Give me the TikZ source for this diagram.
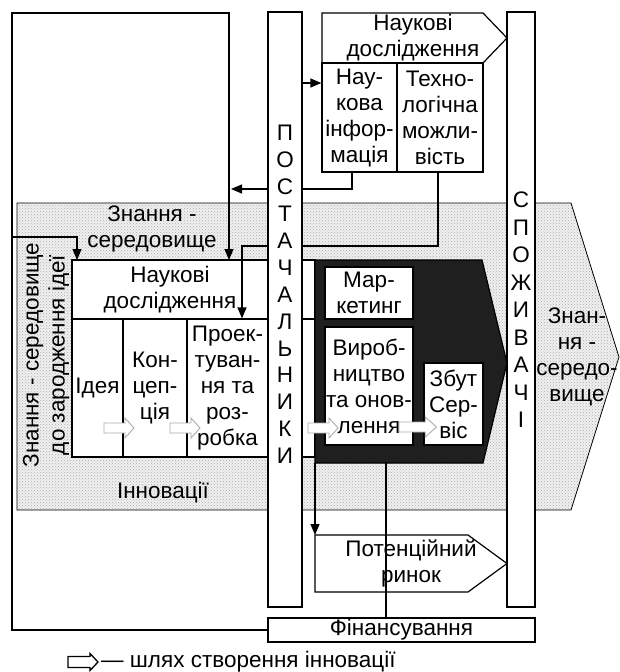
\documentclass[tikz,border=0pt]{standalone}
\usepackage{fontspec}
\setmainfont{Liberation Sans}
\usetikzlibrary{arrows.meta,patterns}
\newcommand\fsz{\fontsize{22.5}{26}\selectfont}
\newcommand\fpil{\fontsize{22.5}{26.9}\selectfont}
\newcommand\fpilb{\fontsize{22.5}{27.5}\selectfont}
\begin{document}
\begin{tikzpicture}[x=1pt,y=-1pt,
  box/.style={draw,fill=white,line width=1.2pt,inner sep=0pt,align=center,font=\fsz},
  txt/.style={inner sep=0pt,align=center,font=\fsz},
  arr/.style={line width=1.2pt,-{Triangle[length=11pt,width=9pt]}},
  con/.style={line width=1.2pt},
  harrow/.pic={\draw[gray!65,fill=white,line width=0.9pt] (0,-5)--(21,-5)--(21,-10)--(30,0)--(21,10)--(21,5)--(0,5)--cycle;},
  legarrow/.pic={\draw[black,fill=white,line width=1.3pt] (0,-5.5)--(22,-5.5)--(22,-8.5)--(30,0)--(22,8.5)--(22,5.5)--(0,5.5)--cycle;}
]
\useasboundingbox (0,0) rectangle (619,672);

% band
\path[draw,line width=0.8pt,preaction={fill=gray!12},pattern=crosshatch dots,pattern color=gray!65]
  (17,203) -- (571,203) -- (619,357) -- (571,510) -- (17,510) -- cycle;
\node[txt] (bandtxt) at (152,228.5) {Знання -\\середовище};
\node[txt] (innov) at (163,493) {Інновації};
\node[txt,rotate=90] (idea0) at (46,355) {Знання - середовище\\до зародження ідеї};
\node[txt] (env) at (577,357) {Знан-\\ня -\\середо-\\вище};

% top research block
\draw[line width=1.2pt,fill=white] (322,13) -- (483,13) -- (507,38) -- (483,63) -- (322,63) -- cycle;
\node[txt] (nd1) at (413,38) {Наукові\\дослідження};
\node[box,minimum width=75pt,minimum height=109pt] (ni) at (359.5,117.5) {Нау-\\кова\\інфор-\\мація};
\node[box,minimum width=86pt,minimum height=109pt] (tm) at (440,117.5) {Техно-\\логічна\\можли-\\вість};

% inner white block
\draw[line width=1.2pt,fill=white] (268,260) rectangle (315,457);
\draw[line width=1.2pt] (268,319) -- (315,319);
\node[box,minimum width=196pt,minimum height=59pt] (ns2) at (170,289.5) {Наукові\\дослідження};
\node[box,minimum width=51pt,minimum height=138pt] (idea) at (97.5,388) {Ідея};
\node[box,minimum width=64pt,minimum height=138pt] (konc) at (155,388) {Кон-\\цеп-\\ція};
\node[box,minimum width=81pt,minimum height=138pt] (proekt) at (227.5,388) {Проек-\\туван-\\ня та\\роз-\\робка};

% dark block
\draw[line width=1.2pt,fill=black!88] (315,260) -- (482,260) -- (507,363) -- (483,463) -- (315,463) -- cycle;
\coordinate (dksw) at (315,463);
\coordinate (dkg) at (386,463);
\node[box,minimum width=88pt,minimum height=52pt] (mark) at (369,293) {Мар-\\кетинг};
\node[box,minimum width=88pt,minimum height=118pt] (vyrob) at (369,386) {Вироб-\\ництво\\та онов-\\лення};
\node[box,minimum width=59pt,minimum height=82pt] (zbut) at (453.5,404) {Збут\\Сер-\\віс};

% path-of-innovation arrows
\pic at (104,428) {harrow};
\pic at (170,428) {harrow};
\pic at (308,428) {harrow};
\pic[xscale=1.25] at (399,427) {harrow};

% potential market
\draw[line width=1.2pt,fill=white] (315,535) -- (468,535) -- (507,563.5) -- (468,592) -- (315,592) -- cycle;
\node[txt] (pm) at (411,563) {Потенційний\\ринок};
\coordinate (pmnw) at (315,535);

% financing
\node[box,minimum width=267pt,minimum height=24pt] (fin) at (401.5,630) {Фінансування};

% connectors
\coordinate (tl) at (12,13);
\coordinate (ta) at (229,260);
\coordinate (lb) at (12,237);
\coordinate (tb) at (77,260);
\coordinate (cc) at (231,189);
\coordinate (dY) at (0,83);
\coordinate (eY) at (242,246);
\draw[arr] (fin.west) -| (tl) -| (ta);
\draw[arr] (lb) -| (tb);
\draw[arr] ([xshift=-7.5pt]ni.south) |- (cc);
\draw[arr] ([xshift=-2pt]tm.south) |- (eY) -- (eY |- proekt.north);
\draw[arr] (dksw) -- (pmnw);
\draw[con] (fin.north -| dkg) -- (dkg);

% pillars
\node[draw,fill=white,line width=1.2pt,minimum width=34pt,minimum height=595pt,inner sep=0pt] (post) at (285,309.5) {};
\node[txt,font=\fpil] (posttxt) at (285,294.5) {П\\О\\С\\Т\\А\\Ч\\А\\Л\\Ь\\Н\\И\\К\\И};
\node[draw,fill=white,line width=1.2pt,minimum width=28pt,minimum height=595pt,inner sep=0pt] (spoz) at (521,309.5) {};
\node[txt,font=\fpilb] (spoztxt) at (521,310) {С\\П\\О\\Ж\\И\\В\\А\\Ч\\І};
\draw[arr] (post.east |- dY) -- (ni.west |- dY);

% legend
\pic at (68,662) {legarrow};
\node[txt,anchor=west] (leg) at (101,662) {— шлях створення інновації};
\end{tikzpicture}
\end{document}
